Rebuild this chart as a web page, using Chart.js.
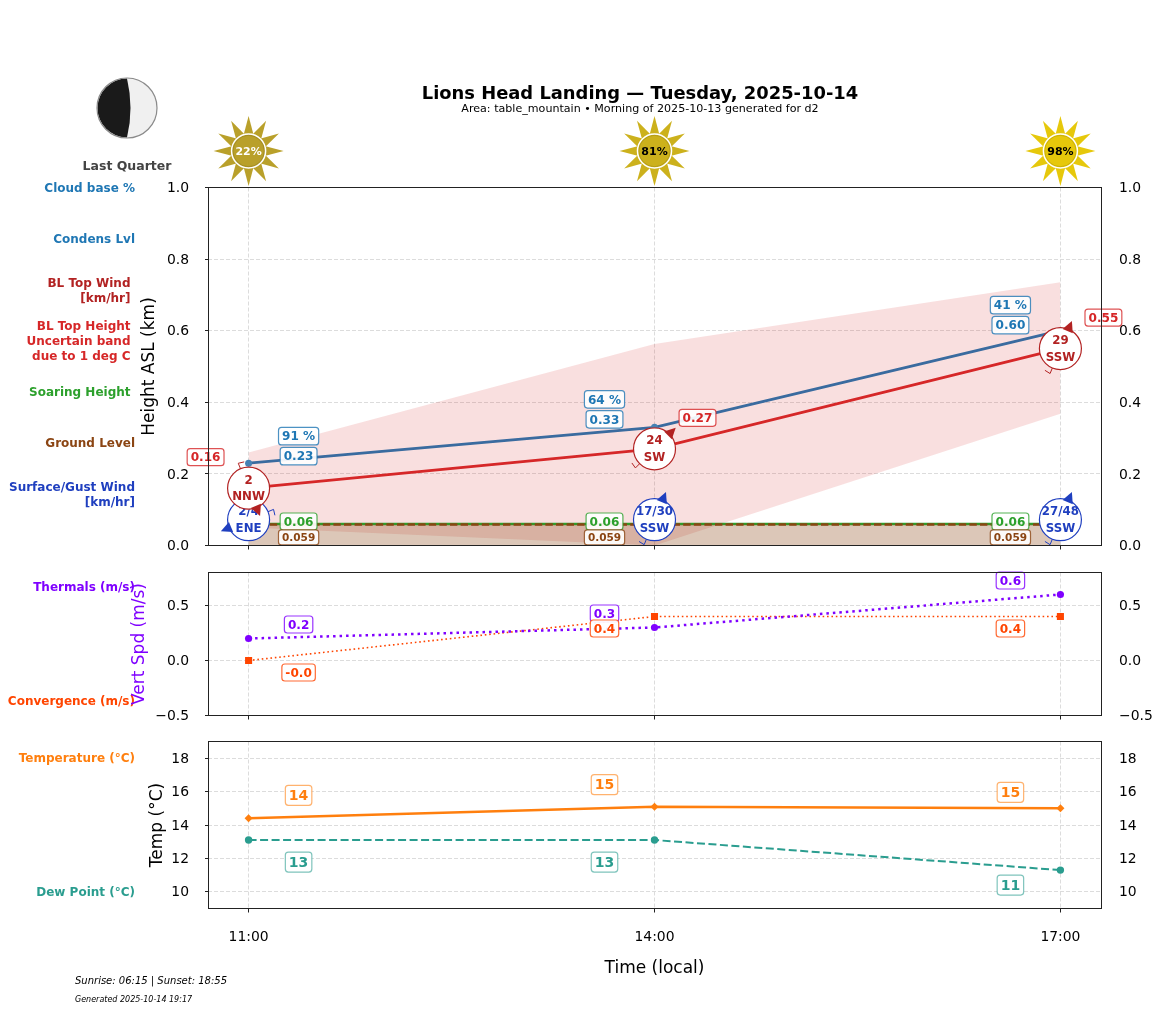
<!DOCTYPE html>
<html>
<head>
<meta charset="utf-8">
<script src="https://cdn.jsdelivr.net/npm/chart.js@4/dist/chart.umd.js"></script>
<style>
  html, body { margin: 0; padding: 0; background: #fff; }
  canvas { position: absolute; left: 0; top: 0; }
</style>
</head>
<body>
<canvas id="height" width="1157" height="1011"></canvas>
<canvas id="vert" width="1157" height="1011"></canvas>
<canvas id="temp" width="1157" height="1011"></canvas>
<script>
// data
const hours = [11, 14, 17];
const hourLabels = ['11:00', '14:00', '17:00'];
const cloudPct = [22, 81, 98];

const condensLvl = [0.23, 0.33, 0.60];
const cloudBase = [91, 64, 41];
const blTop = [0.16, 0.27, 0.55];
const blUpper = [0.26, 0.563, 0.735];
const blLower = [0.05, 0.0, 0.368];
const soaring = [0.06, 0.06, 0.06];
const ground = [0.059, 0.059, 0.059];
const surfaceWindHeight = [0.072, 0.072, 0.072];
const surfaceWind = ['2/4', '17/30', '27/48'];
const surfaceDir = ['ENE', 'SSW', 'SSW'];
const blWind = ['2', '24', '29'];
const blDir = ['NNW', 'SW', 'SSW'];

const thermals = [0.2, 0.3, 0.6];
const convergence = [0, 0.4, 0.4];
const convergenceText = ['-0.0', '0.4', '0.4'];

const temperature = [14.4, 15.1, 15.0];
const dewPoint = [13.1, 13.1, 11.3];

const heightTicks = [0, 0.2, 0.4, 0.6, 0.8, 1.0];
const vertTicks = [-0.5, 0, 0.5];
const tempTicks = [10, 12, 14, 16, 18];

const FONT = '"DejaVu Sans"';
const BLUE = '#1f77b4', LINE_BLUE = '#3a6b9f', RED = '#d62728', DARK_RED = '#b22222',
  GREEN = '#2ca02c', BROWN = '#8b4513', WIND_BLUE = '#1f3fbf', PURPLE = '#7f00ff',
  ORANGE_RED = '#ff4500', ORANGE = '#ff7f0e', TEAL = '#2a9d8f';
const COMPASS = { N: 0, NNE: 22.5, NE: 45, ENE: 67.5, E: 90, ESE: 112.5, SE: 135, SSE: 157.5,
  S: 180, SSW: 202.5, SW: 225, WSW: 247.5, W: 270, WNW: 292.5, NW: 315, NNW: 337.5 };

const pts = (ys) => hours.map((h, i) => ({ x: h, y: ys[i] }));

function box(ctx, text, cx, cy, color, font, h, alpha) {
  ctx.save();
  ctx.font = font;
  const w = ctx.measureText(text).width + 7;
  ctx.beginPath();
  ctx.roundRect(cx - w / 2, cy - h / 2, w, h, 3);
  ctx.fillStyle = 'rgba(255,255,255,0.92)';
  ctx.fill();
  ctx.globalAlpha = alpha || 0.8;
  ctx.strokeStyle = color;
  ctx.lineWidth = 1.2;
  ctx.stroke();
  ctx.globalAlpha = 1;
  ctx.fillStyle = color;
  ctx.textAlign = 'center';
  ctx.textBaseline = 'middle';
  ctx.fillText(text, cx, cy + 1);
  ctx.restore();
}

function label(ctx, text, x, y, color, font, align) {
  ctx.fillStyle = color;
  ctx.font = font;
  ctx.textAlign = align || 'right';
  ctx.textBaseline = 'middle';
  ctx.fillText(text, x, y);
}

// frame, because chart.js has no top spine
const frame = {
  id: 'frame',
  afterDraw(chart) {
    const { ctx, chartArea: a } = chart;
    const l = Math.floor(a.left) + 0.5, r = Math.floor(a.right) + 0.5;
    const t = Math.floor(a.top) + 0.5, b = Math.floor(a.bottom) + 0.5;
    ctx.save();
    ctx.strokeStyle = '#222';
    ctx.lineWidth = 1;
    ctx.strokeRect(l, t, r - l, b - t);
    ctx.restore();
  }
};

// circle text and barb of a wind dataset, right after its circles
const windMarks = {
  id: 'windMarks',
  afterDatasetDraw(chart, args) {
    const ds = chart.data.datasets[args.index];
    if (!ds.windText) return;
    const ctx = chart.ctx;
    ctx.save();
    args.meta.data.forEach((p, i) => {
      const a = COMPASS[ds.windDir[i]] * Math.PI / 180;
      const ux = Math.sin(a), uy = -Math.cos(a);
      // tail points where the wind comes from
      ctx.strokeStyle = ds.borderColor;
      ctx.lineWidth = 1;
      ctx.beginPath();
      ctx.moveTo(p.x + ux * 21, p.y + uy * 21);
      ctx.lineTo(p.x + ux * 27, p.y + uy * 27);
      ctx.lineTo(p.x + ux * 26 - uy * 6, p.y + uy * 26 + ux * 6);
      ctx.stroke();
      // head on the far side
      ctx.fillStyle = ds.borderColor;
      ctx.beginPath();
      ctx.moveTo(p.x - ux * 30, p.y - uy * 30);
      ctx.lineTo(p.x - ux * 19 + uy * 5.5, p.y - uy * 19 - ux * 5.5);
      ctx.lineTo(p.x - ux * 19 - uy * 5.5, p.y - uy * 19 + ux * 5.5);
      ctx.closePath();
      ctx.fill();
      label(ctx, ds.windText[i], p.x, p.y - 7.5, ds.borderColor, 'bold 11.8px ' + FONT, 'center');
      label(ctx, ds.windDir[i], p.x, p.y + 9, ds.borderColor, 'bold 11.8px ' + FONT, 'center');
    });
    ctx.restore();
  }
};

function drawSun(ctx, x, y, pct) {
  const color = pct < 50 ? '#b9a02a' : pct < 90 ? '#ccb11c' : '#e6c80b';
  ctx.save();
  ctx.fillStyle = color;
  for (let i = 0; i < 12; i++) {
    const a = i * Math.PI / 6;
    const ux = Math.sin(a), uy = -Math.cos(a);
    ctx.beginPath();
    ctx.moveTo(x + ux * 35, y + uy * 35);
    ctx.lineTo(x + ux * 16 + uy * 5, y + uy * 16 - ux * 5);
    ctx.lineTo(x + ux * 16 - uy * 5, y + uy * 16 + ux * 5);
    ctx.closePath();
    ctx.fill();
  }
  ctx.beginPath();
  ctx.arc(x, y, 17, 0, Math.PI * 2);
  ctx.fillStyle = color;
  ctx.fill();
  ctx.strokeStyle = '#fff';
  ctx.lineWidth = 1.5;
  ctx.stroke();
  ctx.beginPath();
  ctx.arc(x, y, 15.7, 0, Math.PI * 2);
  ctx.strokeStyle = 'rgba(0,0,0,0.12)';
  ctx.lineWidth = 1;
  ctx.stroke();
  label(ctx, pct + '%', x, y + 1, pct < 50 ? '#fff' : '#000', 'bold 11px ' + FONT, 'center');
  ctx.restore();
}

function drawMoon(ctx, x, y, r) {
  ctx.save();
  ctx.beginPath();
  ctx.arc(x, y, r, 0, Math.PI * 2);
  ctx.fillStyle = '#f0f0f0';
  ctx.fill();
  ctx.beginPath();
  ctx.arc(x, y, r - 0.5, Math.PI / 2, Math.PI * 3 / 2);
  ctx.quadraticCurveTo(x + 7, y, x, y + r - 0.5);
  ctx.closePath();
  ctx.fillStyle = '#1a1a1a';
  ctx.fill();
  ctx.beginPath();
  ctx.arc(x, y, r, 0, Math.PI * 2);
  ctx.strokeStyle = '#8a8a8a';
  ctx.lineWidth = 1.2;
  ctx.stroke();
  ctx.restore();
}

// everything around and over the height panel
const heightDecor = {
  id: 'heightDecor',
  afterDatasetsDraw(chart) {
    const { ctx, scales } = chart;
    const x = scales.x, y = scales.y;
    const f = 'bold 12.1px ' + FONT, small = 'bold 10.5px ' + FONT;
    const baseSide = [50, -50, -50], redSide = [-43, 43, 43];
    hours.forEach((h, i) => {
      const px = x.getPixelForValue(h);
      drawSun(ctx, px, chart.chartArea.top - 36.5, cloudPct[i]);
      const cy = y.getPixelForValue(condensLvl[i]);
      const condOff = [-7, -8, -5.5][i];
      box(ctx, cloudBase[i] + ' %', px + baseSide[i], cy + condOff - 20, BLUE, f, 17.5);
      box(ctx, condensLvl[i].toFixed(2), px + baseSide[i], cy + condOff, BLUE, f, 17.5);
      box(ctx, blTop[i].toFixed(2), px + redSide[i], y.getPixelForValue(blTop[i]) - 31, RED, f, 17);
      box(ctx, soaring[i].toFixed(2), px + baseSide[i], y.getPixelForValue(soaring[i]) - 2.5, GREEN, f, 17);
      box(ctx, ground[i].toFixed(3), px + baseSide[i], y.getPixelForValue(ground[i]) + 13, BROWN, small, 15);
    });
  },
  afterDraw(chart) {
    const ctx = chart.ctx;
    ctx.save();
    drawMoon(ctx, 127, 108, 30);
    const b12 = 'bold 12px ' + FONT;
    label(ctx, 'Lions Head Landing \u2014 Tuesday, 2025-10-14', 640, 94.5, '#000', 'bold 17.9px ' + FONT, 'center');
    label(ctx, 'Area: table_mountain \u2022 Morning of 2025-10-13 generated for d2', 640, 109, '#000', '11.1px ' + FONT, 'center');
    label(ctx, 'Last Quarter', 127, 167, '#444', 'bold 12.5px ' + FONT, 'center');
    label(ctx, 'Cloud base %', 135, 189, BLUE, b12);
    label(ctx, 'Condens Lvl', 135, 240, BLUE, b12);
    label(ctx, 'BL Top Wind', 130.5, 284, DARK_RED, b12);
    label(ctx, '[km/hr]', 130.5, 299, DARK_RED, b12);
    label(ctx, 'BL Top Height', 130.5, 327, RED, b12);
    label(ctx, 'Uncertain band', 130.5, 342, RED, b12);
    label(ctx, 'due to 1 deg C', 130.5, 357, RED, b12);
    label(ctx, 'Soaring Height', 130.5, 393, GREEN, b12);
    label(ctx, 'Ground Level', 135, 444, BROWN, b12);
    label(ctx, 'Surface/Gust Wind', 135, 488, WIND_BLUE, b12);
    label(ctx, '[km/hr]', 135, 503, WIND_BLUE, b12);
    label(ctx, 'Thermals (m/s)', 135, 588, PURPLE, b12);
    label(ctx, 'Convergence (m/s)', 135, 702, ORANGE_RED, b12);
    label(ctx, 'Temperature (\u00b0C)', 135, 759, ORANGE, b12);
    label(ctx, 'Dew Point (\u00b0C)', 135, 893, TEAL, b12);
    label(ctx, 'Sunrise: 06:15 | Sunset: 18:55', 75, 981, '#000', 'italic 10px ' + FONT, 'left');
    label(ctx, 'Generated 2025-10-14 19:17', 75, 1000, '#000', 'italic 8px ' + FONT, 'left');
    ctx.restore();
  }
};

const vertDecor = {
  id: 'vertDecor',
  afterDatasetsDraw(chart) {
    const { ctx, scales } = chart;
    const f = 'bold 12.1px ' + FONT;
    const side = [50, -50, -50];
    hours.forEach((h, i) => {
      const px = scales.x.getPixelForValue(h);
      box(ctx, thermals[i].toFixed(1), px + side[i], scales.y.getPixelForValue(thermals[i]) - 14, PURPLE, f, 17);
      box(ctx, convergenceText[i], px + side[i], scales.y.getPixelForValue(convergence[i]) + 12, ORANGE_RED, f, 17);
    });
  }
};

const tempDecor = {
  id: 'tempDecor',
  afterDatasetsDraw(chart) {
    const { ctx, scales } = chart;
    const f = 'bold 14px ' + FONT;
    const side = [50, -50, -50];
    const tempOff = [-23, -22, -16], dewOff = [22, 22, 15];
    hours.forEach((h, i) => {
      const px = scales.x.getPixelForValue(h);
      box(ctx, temperature[i].toFixed(0), px + side[i], scales.y.getPixelForValue(temperature[i]) + tempOff[i], ORANGE, f, 20, 0.6);
      box(ctx, dewPoint[i].toFixed(0), px + side[i], scales.y.getPixelForValue(dewPoint[i]) + dewOff[i], TEAL, f, 20, 0.6);
    });
  }
};

// fixed pixel layout shared by the three panels
function xAxis(showLabels, axisHeight) {
  return {
    type: 'linear', min: 10.7, max: 17.3,
    afterBuildTicks: (s) => { s.ticks = hours.map(v => ({ value: v })); },
    afterFit: (s) => { s.height = axisHeight; },
    title: { display: showLabels, text: 'Time (local)', color: '#000', font: { family: FONT, size: 17 }, padding: { top: 10, bottom: 0 } },
    grid: { color: '#dcdcdc', lineWidth: 1, tickColor: '#222', tickLength: 4, tickBorderDash: [] },
    border: { dash: [4, 2], display: false },
    ticks: {
      display: showLabels, color: '#000', padding: 17, maxRotation: 0, autoSkip: false,
      font: { family: FONT, size: 13.9 },
      callback: (v) => hourLabels[hours.indexOf(v)]
    }
  };
}

// left is where the panel's axis box starts, it moves the y title
function yAxes(min, max, tickValues, title, titleColor, fmt, left) {
  const base = {
    type: 'linear', min: min, max: max,
    afterBuildTicks: (s) => { s.ticks = tickValues.map(v => ({ value: v })); },
    ticks: { color: '#000', autoSkip: false, labelOffset: 1, font: { family: FONT, size: 13.9 }, callback: fmt }
  };
  return {
    y: Object.assign({}, base, {
      position: 'left',
      afterFit: (s) => { s.width = 208 - left; },
      title: { display: true, text: title, color: titleColor, font: { family: FONT, size: 17 }, padding: 0 },
      grid: { color: '#dcdcdc', lineWidth: 1, tickColor: '#222', tickLength: 3, tickBorderDash: [] },
      border: { dash: [4, 2], display: false },
      ticks: Object.assign({}, base.ticks, { padding: 16 })
    }),
    yr: Object.assign({}, base, {
      position: 'right',
      afterFit: (s) => { s.width = 56; },
      grid: { drawOnChartArea: false, drawTicks: false },
      border: { display: false },
      ticks: Object.assign({}, base.ticks, { padding: 18 })
    })
  };
}

const fmt1 = (v) => (v < 0 ? '\u2212' : '') + Math.abs(v).toFixed(1);
const fmt0 = (v) => String(v);

function baseOptions(left, top, bottom, scales) {
  return {
    responsive: false,
    animation: false,
    devicePixelRatio: 1,
    layout: { padding: { left: left, right: 0, top: top, bottom: bottom } },
    plugins: { legend: { display: false }, tooltip: { enabled: false } },
    scales: scales
  };
}

new Chart(document.getElementById('height'), {
  type: 'line',
  data: {
    datasets: [
      { data: pts(blUpper), order: 9, borderWidth: 0, pointRadius: 0, fill: '+1', backgroundColor: 'rgba(214,39,40,0.15)' },
      { data: pts(blLower), order: 8, borderWidth: 0, pointRadius: 0, fill: false },
      { data: pts(soaring), order: 7, borderColor: GREEN, borderWidth: 2.5, pointRadius: 0 },
      { data: pts(ground), order: 6, borderColor: BROWN, borderWidth: 2.5, borderDash: [7.4, 3.2], pointRadius: 0, fill: 'origin', backgroundColor: 'rgba(139,69,19,0.3)' },
      { data: pts(condensLvl), order: 5, borderColor: LINE_BLUE, borderWidth: 2.8, pointRadius: 3.5, pointBackgroundColor: '#4682b4', pointBorderWidth: 0 },
      { data: pts(blTop), order: 4, borderColor: RED, borderWidth: 2.8, pointRadius: 0 },
      { data: pts(surfaceWindHeight), order: 3, clip: false, showLine: false, borderColor: WIND_BLUE, pointRadius: 21, pointBackgroundColor: '#fff', pointBorderColor: WIND_BLUE, pointBorderWidth: 1.2, windText: surfaceWind, windDir: surfaceDir },
      { data: pts(blTop), order: 2, clip: false, showLine: false, borderColor: DARK_RED, pointRadius: 21, pointBackgroundColor: '#fff', pointBorderColor: DARK_RED, pointBorderWidth: 1.2, windText: blWind, windDir: blDir }
    ]
  },
  options: baseOptions(139, 187.5, 1011 - 545.5 - 6, Object.assign({ x: xAxis(false, 6) }, yAxes(0, 1, heightTicks, 'Height ASL (km)', '#000', fmt1, 139))),
  plugins: [frame, windMarks, heightDecor]
});

new Chart(document.getElementById('vert'), {
  type: 'line',
  data: {
    datasets: [
      { data: pts(convergence), order: 2, borderColor: ORANGE_RED, borderWidth: 1.6, borderDash: [1.6, 2.8], pointStyle: 'rect', pointRadius: 5, pointBackgroundColor: ORANGE_RED, pointBorderWidth: 0 },
      { data: pts(thermals), order: 1, borderColor: PURPLE, borderWidth: 2.5, borderDash: [2.5, 4], pointRadius: 3.6, pointBackgroundColor: PURPLE, pointBorderWidth: 0 }
    ]
  },
  options: baseOptions(129, 572.5, 1011 - 715.5 - 6, Object.assign({ x: xAxis(false, 6) }, yAxes(-0.5, 0.8, vertTicks, 'Vert Spd (m/s)', PURPLE, fmt1, 129))),
  plugins: [frame, vertDecor]
});

new Chart(document.getElementById('temp'), {
  type: 'line',
  data: {
    datasets: [
      { data: pts(dewPoint), order: 2, borderColor: TEAL, borderWidth: 2, borderDash: [8, 3.5], pointRadius: 3.7, pointBackgroundColor: TEAL, pointBorderWidth: 0 },
      { data: pts(temperature), order: 1, borderColor: ORANGE, borderWidth: 2.5, pointStyle: 'rectRot', pointRadius: 4, pointBackgroundColor: ORANGE, pointBorderWidth: 0 }
    ]
  },
  options: baseOptions(147, 741.5, 1011 - 908.5 - 70, Object.assign({ x: xAxis(true, 70) }, yAxes(9, 19, tempTicks, 'Temp (\u00b0C)', '#000', fmt0, 147))),
  plugins: [frame, tempDecor]
});
</script>
</body>
</html>
